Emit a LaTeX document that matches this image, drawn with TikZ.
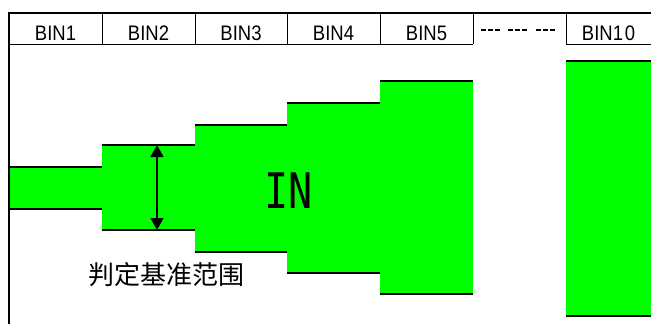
\documentclass[tikz,border=0pt]{standalone}
\usepackage{fontspec}
\setmainfont{Liberation Sans}
\newfontfamily\cjkfont{Noto Sans CJK SC}
\newfontfamily\monofont{DejaVu Sans Mono}
\usetikzlibrary{arrows.meta}
\definecolor{bargreen}{RGB}{0,255,0}
\newcommand{\binlab}[1]{\scalebox{0.88}[1]{#1}}
\begin{document}
\begin{tikzpicture}[x=1pt,y=-1pt,
  edge/.style={line width=2pt},
  thin frame/.style={line width=1pt},
  binlabel/.style={anchor=base,inner sep=0pt,font=\fontsize{21}{21}\selectfont},
  dots/.style={line width=2.2pt,dash pattern=on 5pt off 2pt}
]
\useasboundingbox (0,0) rectangle (651,324);
% bars: x1,x2,top,bottom
\foreach \xa/\xb/\yt/\yb in {9/102/167/209, 102/195/145/230, 195/287/124.5/252, 287/380/103/273, 380/473/81/294, 566/651/61/316}{
  \fill[bargreen] (\xa,\yt) rectangle (\xb,\yb);
  \draw[edge] (\xa,\yt) -- (\xb,\yt);
  \draw[edge] (\xa,\yb) -- (\xb,\yb);
}
% frame
\draw[edge] (651,13) -- (8.7,13) -- (8.7,324);
\draw[thin frame] (9,44) -- (473,44);
\draw[thin frame] (566,44) -- (651,44);
\foreach \x in {102,195,287,380,473,566}{
  \draw[thin frame] (\x,13) -- (\x,44);
}
% header labels
\node[binlabel] (b1) at (55.5,40) {\binlab{BIN1}};
\node[binlabel] (b2) at (148.5,40) {\binlab{BIN2}};
\node[binlabel] (b3) at (241,40) {\binlab{BIN3}};
\node[binlabel] (b4) at (333.5,40) {\binlab{BIN4}};
\node[binlabel] (b5) at (426.5,40) {\binlab{BIN5}};
\node[binlabel] (b10) at (608.5,40) {\binlab{BIN1\kern2pt 0}};
% dots
\draw[dots] (481,30) -- (500,30);
\draw[dots] (508,30) -- (527,30);
\draw[dots] (536,30) -- (555,30);
% arrow
\coordinate (rangetop) at (157,145);
\coordinate (rangebot) at (157,230);
\draw[line width=1.5pt,{Triangle[width=13pt,length=12pt]}-{Triangle[width=13pt,length=12pt]}] (rangetop) -- (rangebot);
% texts
\node[anchor=base,inner sep=0pt,font=\monofont\fontsize{49}{49}\selectfont] (in) at (289,208) {\scalebox{0.82}[1]{IN}};
\node[inner sep=0pt,font=\cjkfont\fontsize{26}{26}\selectfont] (crit) at (166,275) {判定基准范围};
\end{tikzpicture}
\end{document}
